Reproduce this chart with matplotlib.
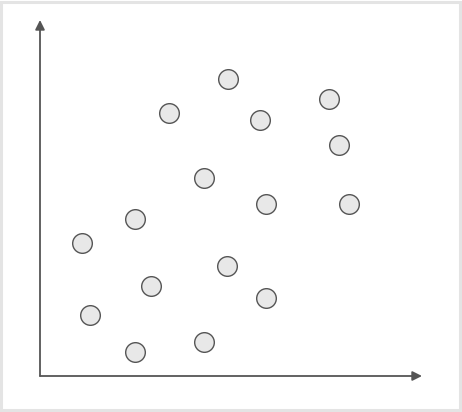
import matplotlib
matplotlib.use('Agg')
import matplotlib.pyplot as plt
from matplotlib.patches import Rectangle

# scatter points (x, y), origin at the axes corner
xs = [188, 129, 220, 289, 299, 164, 226, 309, 95, 42, 187, 111, 226, 50, 95, 164]
ys = [297, 263, 256, 277, 231, 198, 172, 172, 157, 133, 110, 90, 78, 61, 24, 34]

x_end = 382   # x axis arrow tip
y_end = 356   # y axis arrow tip

fig = plt.figure(figsize=(4.62, 4.12), dpi=100)
fig.patch.set_facecolor('white')
ax = fig.add_axes([0, 0, 1, 1])
ax.set_xlim(-40, 422)
ax.set_ylim(-36, 376)
ax.axis('off')

# light frame round the picture
fig.add_artist(Rectangle((0.003, 0.004), 0.992, 0.991, transform=fig.transFigure,
                         fill=False, edgecolor='#e4e4e4', lw=2.2))

arrow = dict(arrowstyle='-|>', color='#555555', lw=1.3,
             mutation_scale=14, shrinkA=0, shrinkB=0)
ax.annotate('', xy=(x_end, 0), xytext=(0, 0), arrowprops=arrow)
ax.annotate('', xy=(0, y_end), xytext=(0, 0), arrowprops=arrow)

ax.scatter(xs, ys, s=200, facecolor='#e8e8e8', edgecolor='#555555',
           linewidths=1.0, zorder=3)

fig.savefig('out.png', dpi=100)
